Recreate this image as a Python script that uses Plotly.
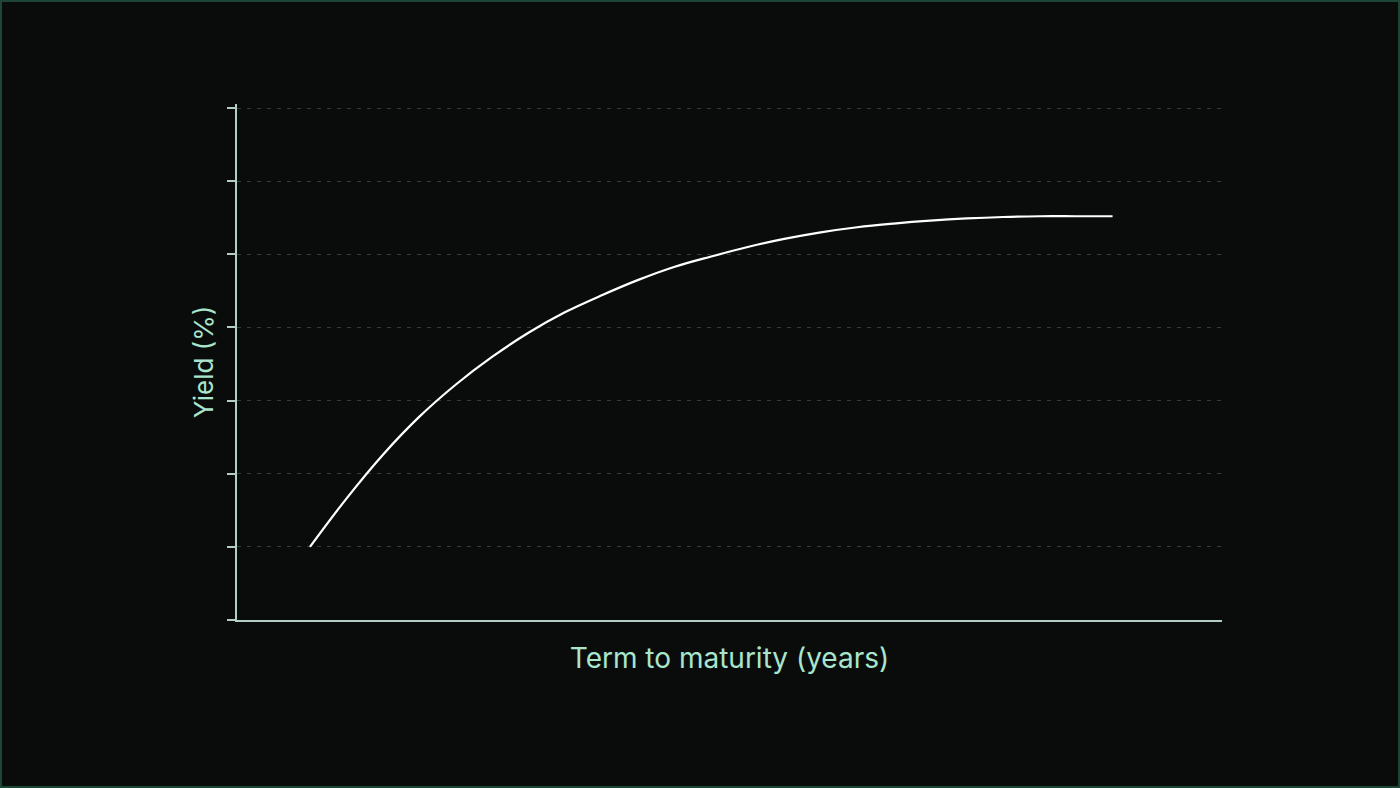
import plotly.graph_objects as go

# Data (term in years, yield in %)
term_years = [2, 3, 4, 5, 6, 7, 8, 9, 10, 11, 12, 13, 14, 15, 16, 17, 18, 19, 20, 21, 22, 23, 24]
yield_pct = [1.00, 1.66, 2.26, 2.78, 3.22, 3.60, 3.93, 4.21, 4.44, 4.65, 4.83, 4.97,
             5.10, 5.21, 5.30, 5.37, 5.42, 5.46, 5.49, 5.51, 5.52, 5.52, 5.52]
y_ticks = [0, 1, 2, 3, 4, 5, 6, 7]

x_title = "Term to maturity (years)"
y_title = "Yield (%)"

W, H = 1400, 788
ML, MR, MT, MB = 237, 178, 104, 168
PW, PH = W - ML - MR, H - MT - MB
Y_MAX = 7 + 4 * 7 / 512  # a little headroom so the top gridline is drawn

bg = "#0a0c0b"
mint = "#a9e5cc"
axis_col = "#b3cfc4"
grid_col = "#363a38"

fig = go.Figure()
fig.add_trace(go.Scatter(
    x=term_years, y=yield_pct, mode="lines",
    line=dict(color="#ffffff", width=2.2, shape="spline", smoothing=1.0),
    hoverinfo="skip", showlegend=False,
))

fig.update_layout(
    width=W, height=H,
    margin=dict(l=ML, r=MR, t=MT, b=MB),
    paper_bgcolor=bg, plot_bgcolor=bg,
    font=dict(family="Inter, sans-serif", color=mint),
    showlegend=False,
)
fig.update_xaxes(
    range=[0, 27], showgrid=False, zeroline=False,
    showline=True, linecolor=axis_col, linewidth=1.5,
    showticklabels=False, ticks="",
    title=dict(text=x_title, font=dict(size=28, color=mint), standoff=28),
)
fig.update_yaxes(
    range=[0, Y_MAX], tickvals=y_ticks, showticklabels=False,
    ticks="outside", ticklen=8, tickwidth=1.5, tickcolor=axis_col,
    showline=True, linecolor=axis_col, linewidth=1.5, zeroline=False,
    showgrid=True, gridcolor=grid_col, gridwidth=1, griddash="4px,6px",
    title=dict(text=y_title, font=dict(size=26, color=mint), standoff=6),
)

# thin dark-green frame around the whole picture
fig.add_shape(
    type="rect", xref="paper", yref="paper",
    x0=-(ML - 1) / PW, x1=1 + (MR - 1) / PW,
    y0=-(MB - 1) / PH, y1=1 + (MT - 1) / PH,
    line=dict(color="#1d4636", width=2), fillcolor="rgba(0,0,0,0)",
    layer="above",
)

fig.write_html(
    "out.html",
    config={"displayModeBar": False},
    post_script="document.body.style.margin='0';document.body.style.overflow='hidden';",
)
